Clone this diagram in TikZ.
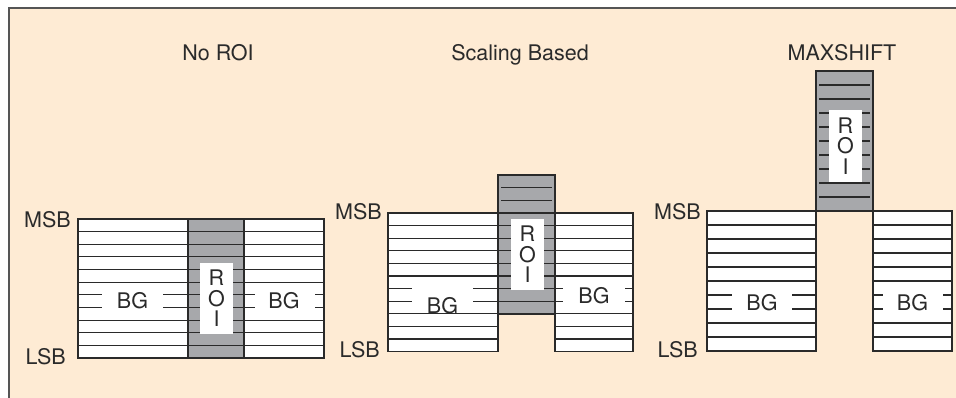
\documentclass[tikz,border=0pt]{standalone}
\usepackage{fontspec}
\setmainfont{TeX Gyre Heros}
\definecolor{bgbeige}{HTML}{FEEBD4}
\definecolor{roigray}{HTML}{A7A8AB}
\definecolor{ink}{HTML}{2A2A2A}
\newcommand\hlines[6]{%
  \foreach \k in {#5,...,#6}{\draw[bitline] (#1,{#3+\k*#4}) -- (#2,{#3+\k*#4});}}
\begin{document}
\begin{tikzpicture}[x=1pt,y=-1pt,
  outline/.style={draw=ink,line width=1.4pt},
  bitline/.style={draw=ink,line width=1.1pt},
  txt/.style={font=\fontsize{21.5}{20.5}\selectfont,text=ink,inner sep=0pt},
  roibox/.style={txt,fill=white,align=center,minimum width=33pt,minimum height=71pt},
  framel/.style={draw=ink!80,line width=1.1pt}]
\useasboundingbox (0,0) rectangle (956,398);
\fill[white] (0,0) rectangle (956,398);
\fill[bgbeige] (9,8) rectangle (956,398);
\draw[framel] (9,398) -- (9,8) -- (956,8);

% ---------- Panel 1: No ROI ----------
\fill[white] (78,219) rectangle (188,{219+11*12.64});
\fill[roigray] (188,219) rectangle (244,{219+11*12.64});
\fill[white] (244,219) rectangle (324,{219+11*12.64});
\hlines{78}{188}{219}{12.64}{1}{10}
\hlines{188}{244}{219}{12.64}{1}{10}
\hlines{244}{324}{219}{12.64}{1}{10}
\fill[white] (102,{219+5*12.64+0.7}) rectangle (163,{219+8*12.64-0.7});
\fill[white] (255,{219+5*12.64+0.7}) rectangle (315,{219+8*12.64-0.7});
\node[roibox] (roi1) at (216.5,298.5) {R\\O\\I};
\draw[outline] (78,219) rectangle (188,{219+11*12.64});
\draw[outline] (188,219) rectangle (244,{219+11*12.64});
\draw[outline] (244,219) rectangle (324,{219+11*12.64});
\node[txt] (bg1l) at (132.5,301) {BG};
\node[txt] (bg1r) at (284,301) {BG};
\node[txt,anchor=east] (msb1) at (71,219.5) {MSB};
\node[txt,anchor=east] (lsb1) at (66,357) {LSB};
\node[txt,anchor=base] (t1) at (218,60.5) {No ROI};

% ---------- Panel 2: Scaling Based ----------
\fill[white] (388,213) rectangle (498,{213+11*12.6});
\fill[roigray] (498,{213-3*12.6}) rectangle (555,{213+8*12.6});
\fill[white] (555,213) rectangle (633,{213+11*12.6});
\hlines{388}{498}{213}{12.6}{1}{10}
\hlines{555}{633}{213}{12.6}{1}{10}
\hlines{501}{552}{213}{12.6}{-2}{-1}
\hlines{498}{555}{213}{12.6}{0}{7}
\fill[white] (412,{213+5*12.6+0.7}) rectangle (473,{213+8*12.6-0.7});
\fill[white] (563,{213+5*12.6+0.7}) rectangle (625,{213+8*12.6-0.7});
\node[roibox] (roi2) at (527.5,254.5) {R\\O\\I};
\draw[outline] (388,213) rectangle (498,{213+11*12.6});
\draw[outline] (498,{213-3*12.6}) rectangle (555,{213+8*12.6});
\draw[outline] (555,213) rectangle (633,{213+11*12.6});
\node[txt] (bg2l) at (442.5,306) {BG};
\node[txt] (bg2r) at (594,296) {BG};
\node[txt,anchor=east] (msb2) at (382,212) {MSB};
\node[txt,anchor=east] (lsb2) at (380,350) {LSB};
\node[txt,anchor=base] (t2) at (520,60.5) {Scaling Based};

% ---------- Panel 3: MAXSHIFT ----------
\fill[white] (707,211) rectangle (816,{211+10*14});
\fill[roigray] (816,{211-10*14}) rectangle (873,211);
\fill[white] (873,211) rectangle (952,{211+10*14});
\hlines{707}{816}{211}{14}{1}{9}
\hlines{873}{952}{211}{14}{1}{9}
\hlines{819}{870}{211}{14}{-9}{-1}
\fill[white] (732,{211+5*14+0.7}) rectangle (792,{211+8*14-0.7});
\fill[white] (883,{211+5*14+0.7}) rectangle (943,{211+8*14-0.7});
\node[roibox,minimum height=72pt] (roi3) at (845.5,146) {R\\O\\I};
\draw[outline] (707,211) rectangle (816,{211+10*14});
\draw[outline] (816,{211-10*14}) rectangle (873,211);
\draw[outline] (873,211) rectangle (952,{211+10*14});
\node[txt] (bg3l) at (762,303) {BG};
\node[txt] (bg3r) at (912.5,303) {BG};
\node[txt,anchor=east] (msb3) at (701,212) {MSB};
\node[txt,anchor=east] (lsb3) at (698,350) {LSB};
\node[txt,anchor=base] (t3) at (842,61) {MAXSHIFT};
\end{tikzpicture}
\end{document}
